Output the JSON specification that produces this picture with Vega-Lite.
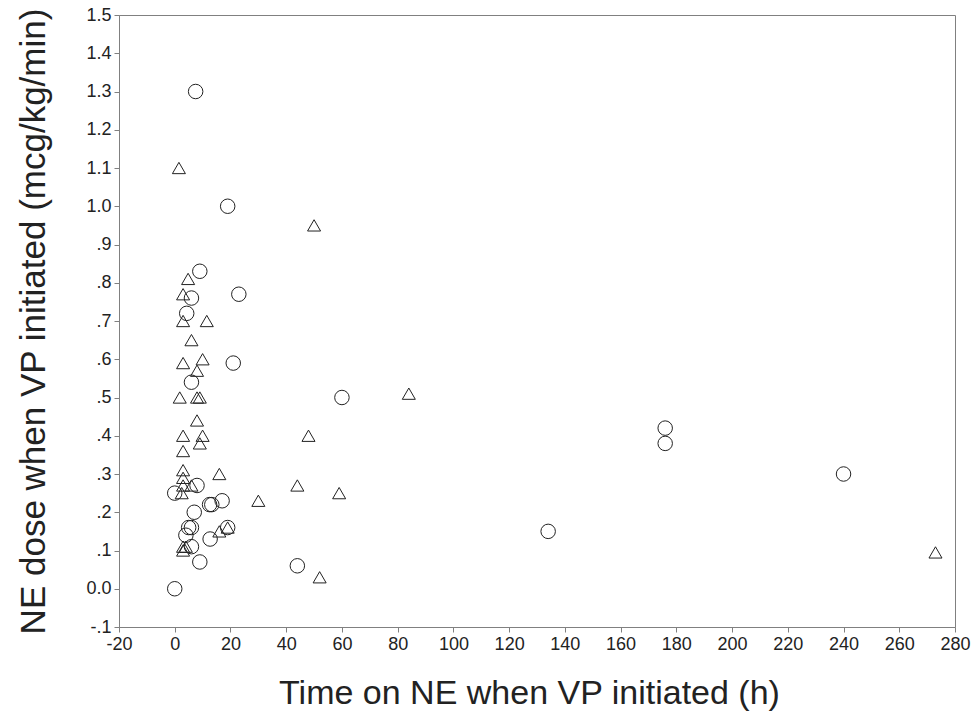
{
  "$schema": "https://vega.github.io/schema/vega-lite/v6.json",
  "autosize": "none",
  "width": 836,
  "height": 612,
  "padding": {"left": 119, "top": 15, "right": 21, "bottom": 92},
  "background": "white",
  "config": {
    "view": {"stroke": "#808080", "strokeWidth": 1},
    "font": "Liberation Sans"
  },
  "data": {
    "values": [
      {"time": 7.5, "dose": 1.30, "group": "A"},
      {"time": 19, "dose": 1.00, "group": "A"},
      {"time": 9, "dose": 0.83, "group": "A"},
      {"time": 6, "dose": 0.76, "group": "A"},
      {"time": 23, "dose": 0.77, "group": "A"},
      {"time": 4.3, "dose": 0.72, "group": "A"},
      {"time": 21, "dose": 0.59, "group": "A"},
      {"time": 6, "dose": 0.54, "group": "A"},
      {"time": 60, "dose": 0.50, "group": "A"},
      {"time": 176, "dose": 0.42, "group": "A"},
      {"time": 176, "dose": 0.38, "group": "A"},
      {"time": 240, "dose": 0.30, "group": "A"},
      {"time": 0, "dose": 0.25, "group": "A"},
      {"time": 8, "dose": 0.27, "group": "A"},
      {"time": 17, "dose": 0.23, "group": "A"},
      {"time": 12.5, "dose": 0.22, "group": "A"},
      {"time": 13.3, "dose": 0.22, "group": "A"},
      {"time": 7, "dose": 0.20, "group": "A"},
      {"time": 5, "dose": 0.16, "group": "A"},
      {"time": 6, "dose": 0.16, "group": "A"},
      {"time": 19, "dose": 0.16, "group": "A"},
      {"time": 12.7, "dose": 0.13, "group": "A"},
      {"time": 4, "dose": 0.14, "group": "A"},
      {"time": 6, "dose": 0.11, "group": "A"},
      {"time": 134, "dose": 0.15, "group": "A"},
      {"time": 9, "dose": 0.07, "group": "A"},
      {"time": 44, "dose": 0.06, "group": "A"},
      {"time": 0, "dose": 0.0, "group": "A"},
      {"time": 1.5, "dose": 1.10, "group": "B"},
      {"time": 50, "dose": 0.95, "group": "B"},
      {"time": 4.8, "dose": 0.81, "group": "B"},
      {"time": 3, "dose": 0.77, "group": "B"},
      {"time": 3, "dose": 0.70, "group": "B"},
      {"time": 11.5, "dose": 0.70, "group": "B"},
      {"time": 6, "dose": 0.65, "group": "B"},
      {"time": 3, "dose": 0.59, "group": "B"},
      {"time": 10, "dose": 0.60, "group": "B"},
      {"time": 8, "dose": 0.57, "group": "B"},
      {"time": 1.8, "dose": 0.50, "group": "B"},
      {"time": 8, "dose": 0.50, "group": "B"},
      {"time": 9, "dose": 0.50, "group": "B"},
      {"time": 84, "dose": 0.51, "group": "B"},
      {"time": 8, "dose": 0.44, "group": "B"},
      {"time": 3, "dose": 0.40, "group": "B"},
      {"time": 10, "dose": 0.40, "group": "B"},
      {"time": 48, "dose": 0.40, "group": "B"},
      {"time": 9, "dose": 0.38, "group": "B"},
      {"time": 3, "dose": 0.36, "group": "B"},
      {"time": 3, "dose": 0.31, "group": "B"},
      {"time": 16, "dose": 0.30, "group": "B"},
      {"time": 3, "dose": 0.29, "group": "B"},
      {"time": 3, "dose": 0.27, "group": "B"},
      {"time": 6, "dose": 0.27, "group": "B"},
      {"time": 2.5, "dose": 0.25, "group": "B"},
      {"time": 30, "dose": 0.23, "group": "B"},
      {"time": 44, "dose": 0.27, "group": "B"},
      {"time": 59, "dose": 0.25, "group": "B"},
      {"time": 16, "dose": 0.15, "group": "B"},
      {"time": 19, "dose": 0.16, "group": "B"},
      {"time": 3, "dose": 0.11, "group": "B"},
      {"time": 4, "dose": 0.11, "group": "B"},
      {"time": 3, "dose": 0.10, "group": "B"},
      {"time": 52, "dose": 0.03, "group": "B"},
      {"time": 273, "dose": 0.095, "group": "B"}
    ]
  },
  "mark": {"type": "point", "filled": false, "stroke": "#222222", "strokeWidth": 1, "opacity": 1},
  "encoding": {
    "x": {
      "field": "time", "type": "quantitative",
      "scale": {"domain": [-20, 280], "nice": false, "zero": false},
      "axis": {
        "title": "Time on NE when VP initiated (h)",
        "values": [-20, 0, 20, 40, 60, 80, 100, 120, 140, 160, 180, 200, 220, 240, 260, 280],
        "labelExpr": "datum.value < 0 ? '-' + format(abs(datum.value), 'd') : format(datum.value, 'd')",
        "grid": false,
        "domainColor": "#808080",
        "tickColor": "#808080",
        "tickSize": 5,
        "labelFontSize": 18,
        "labelColor": "#222222",
        "labelPadding": 3,
        "labelFlush": false,
        "labelOverlap": false,
        "titleFontSize": 34,
        "titleFontWeight": "normal",
        "titleColor": "#222222",
        "titlePadding": 23,
        "titleX": 410
      }
    },
    "y": {
      "field": "dose", "type": "quantitative",
      "scale": {"domain": [-0.1, 1.5], "nice": false, "zero": false},
      "axis": {
        "title": "NE dose when VP initiated (mcg/kg/min)",
        "values": [-0.1, 0, 0.1, 0.2, 0.3, 0.4, 0.5, 0.6, 0.7, 0.8, 0.9, 1.0, 1.1, 1.2, 1.3, 1.4, 1.5],
        "labelExpr": "abs(datum.value) < 1e-9 ? '0.0' : (datum.value >= 0.999 ? format(datum.value, '.1f') : (datum.value < 0 ? '-' : '') + replace(format(abs(datum.value), '.1f'), '0.', '.'))",
        "grid": false,
        "domainColor": "#808080",
        "tickColor": "#808080",
        "tickSize": 5,
        "labelFontSize": 18,
        "labelColor": "#222222",
        "labelPadding": 3,
        "labelFlush": false,
        "labelOverlap": false,
        "titleFontSize": 35,
        "titleFontWeight": "normal",
        "titleColor": "#222222",
        "titlePadding": 34
      }
    },
    "shape": {
      "field": "group", "type": "nominal",
      "scale": {"domain": ["A", "B"], "range": ["circle", "triangle-up"]},
      "legend": null
    },
    "size": {
      "field": "group", "type": "nominal",
      "scale": {"domain": ["A", "B"], "range": [210, 170]},
      "legend": null
    }
  }
}
